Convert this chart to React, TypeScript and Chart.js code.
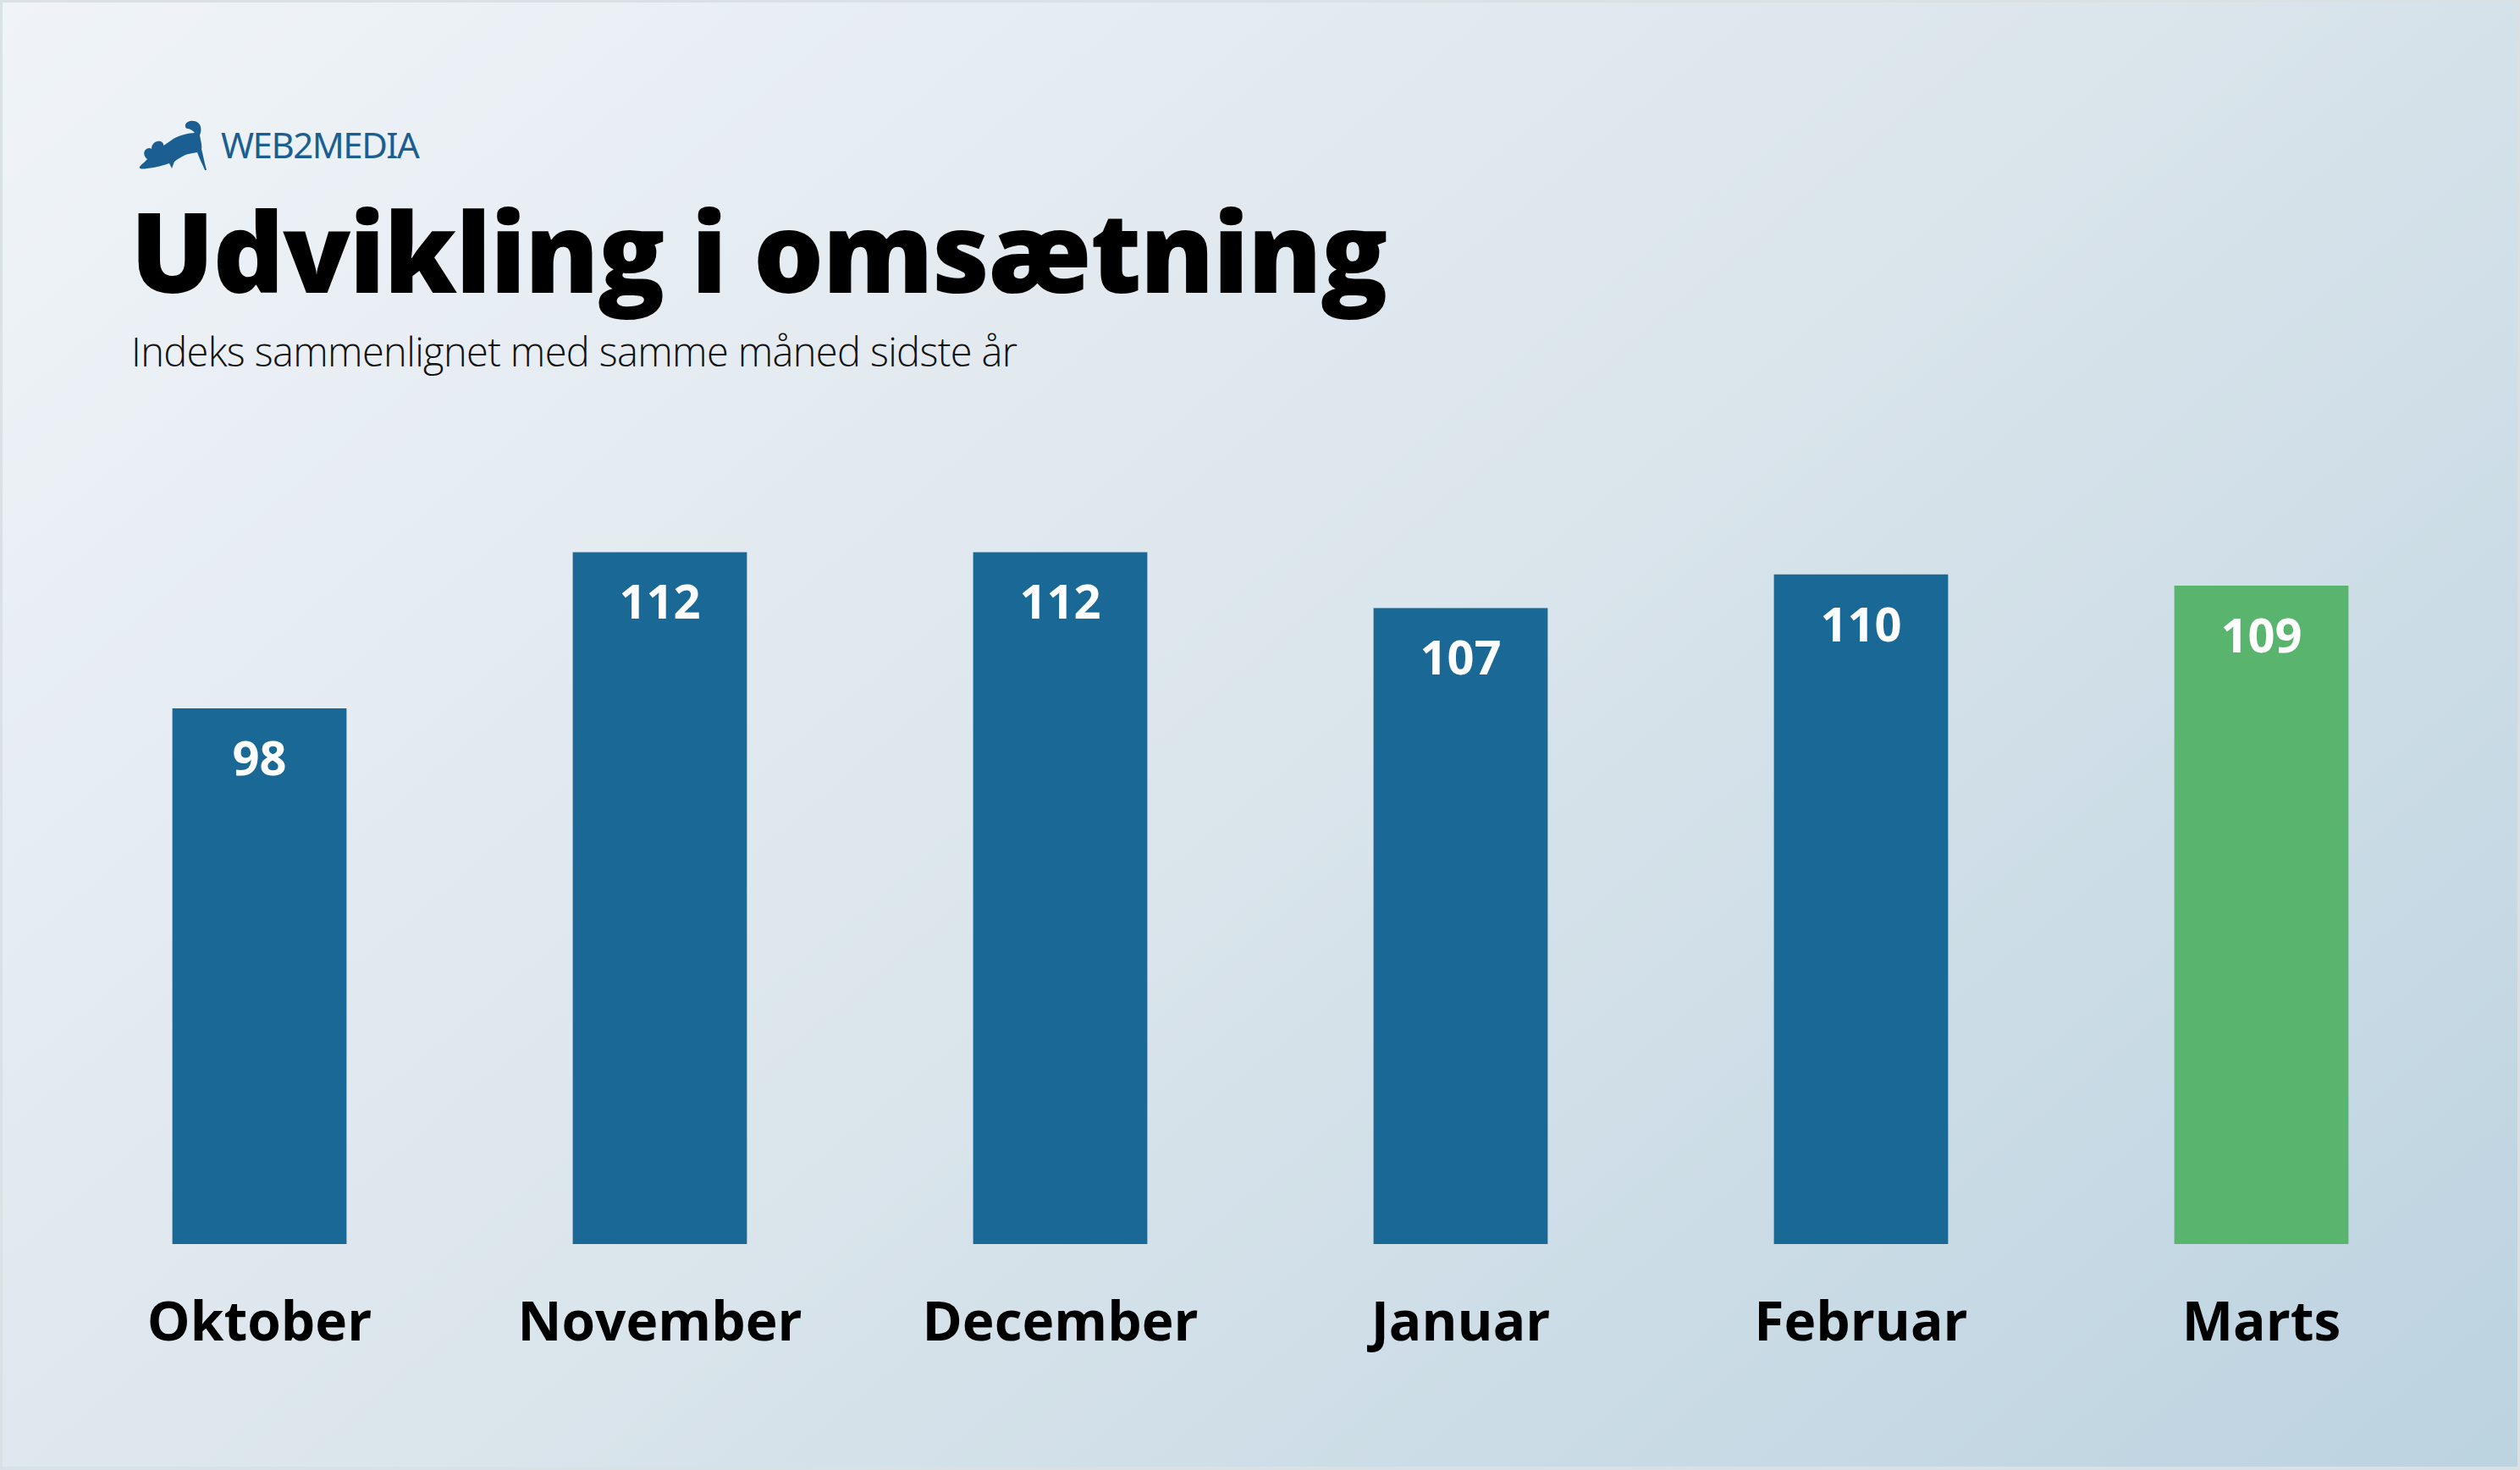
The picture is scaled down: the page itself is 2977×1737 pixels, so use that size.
import { useEffect, useRef } from "react"
import { Chart, registerables, Plugin } from "chart.js"

Chart.register(...registerables)

const months = ["Oktober", "November", "December", "Januar", "Februar", "Marts"]
const indexValues = [98, 112, 112, 107, 110, 109]
const barColors = ["#1a6895", "#1a6895", "#1a6895", "#1a6895", "#1a6895", "#59b46e"]

const titleText = "Udvikling i omsætning"
const subtitleText = "Indeks sammenlignet med samme måned sidste år"

// white value labels inside the top of each bar
const valueLabels: Plugin<"bar"> = {
  id: "valueLabels",
  afterDatasetsDraw(chart) {
    const ctx = chart.ctx
    const meta = chart.getDatasetMeta(0)
    ctx.save()
    ctx.fillStyle = "#ffffff"
    ctx.font = "bold 56px 'Open Sans'"
    ctx.textAlign = "center"
    ctx.textBaseline = "middle"
    meta.data.forEach((bar, i) => {
      ctx.fillText(String(indexValues[i]), bar.x, bar.y + 63)
    })
    ctx.restore()
  }
}

const CatLogo = () => (
  <svg
    viewBox="0 0 82 60"
    style={{ position: "absolute", left: 161, top: 139, width: 82, height: 60 }}
  >
    <path
      fill="#1b5e91"
      d="M1 55 C4 51 8 49 10 46 C7 44 5 40 7 36 C9 33 13 32 15 34 C15 30 17 26 22 25 C26 24 30 27 29 30 C36 26 42 20 50 18 C56 16 62 15 66 15 C64 12 60 10 57 10 C54 9 54 4 58 2 C64 -1 72 2 73 8 C74 12 73 15 72 18 C73 24 75 30 74 34 C76 42 78 52 80 59 L78 59 C75 52 71 44 69 38 C63 39 58 40 55 41 C50 44 45 46 42 49 L39 57 L36 51 C30 53 20 56 10 57 C5 58 0 58 1 55 Z"
    />
  </svg>
)

const IndexChart = () => {
  const chartRef = useRef<HTMLCanvasElement>(null)
  const chartInstance = useRef<Chart | null>(null)

  useEffect(() => {
    if (chartRef.current) {
      const ctx = chartRef.current.getContext("2d")

      if (ctx) {
        if (chartInstance.current) {
          chartInstance.current.destroy()
        }

        chartInstance.current = new Chart(ctx, {
          type: "bar",
          data: {
            labels: months,
            datasets: [{
              label: "Indeks",
              data: indexValues,
              backgroundColor: barColors,
              barPercentage: 0.435,
              categoryPercentage: 1
            }]
          },
          options: {
            responsive: false,
            maintainAspectRatio: false,
            animation: false,
            layout: { padding: 0 },
            scales: {
              y: {
                display: false,
                min: 50,
                max: 120
              },
              x: {
                grid: { display: false, drawTicks: false },
                border: { display: false },
                ticks: {
                  color: "#000000",
                  padding: 57,
                  font: { family: "'Open Sans'", size: 64, weight: "bold" }
                },
                afterFit: (scale) => {
                  scale.height = 160
                }
              }
            },
            plugins: {
              legend: { display: false },
              tooltip: { enabled: false }
            }
          },
          plugins: [valueLabels]
        })
      }
    }

    return () => {
      if (chartInstance.current) {
        chartInstance.current.destroy()
        chartInstance.current = null
      }
    }
  }, [])

  return (
    <canvas
      ref={chartRef}
      width={2838}
      height={1083}
      style={{ position: "absolute", left: 70, top: 547, width: 2838, height: 1083 }}
    ></canvas>
  )
}

const App = () => {
  useEffect(() => {
    document.body.style.margin = "0"
    document.body.style.overflow = "hidden"
  }, [])

  return (
    <div style={{ position: "absolute", left: 0, top: 0, width: 2977, height: 1737, background: "#d9e1e5" }}>
      <div
        style={{
          position: "absolute", left: 3, top: 3, right: 3, bottom: 4,
          background: "linear-gradient(140deg, #f0f4f8 0%, #dbe5ec 50%, #bcd3e0 100%)",
          fontFamily: "'Open Sans', sans-serif",
          overflow: "hidden"
        }}
      >
        <CatLogo />
        <div style={{
          position: "absolute", left: 258, top: 147, fontFamily: "'Noto Sans'",
          fontSize: 42, lineHeight: "42px", letterSpacing: -1.5, color: "#1b5e91", whiteSpace: "nowrap"
        }}>WEB2MEDIA</div>
        <div style={{
          position: "absolute", left: 151, top: 227, fontSize: 131, lineHeight: "131px",
          letterSpacing: -1.6, fontWeight: 800, color: "#000", whiteSpace: "nowrap"
        }}>{titleText}</div>
        <div style={{
          position: "absolute", left: 152, top: 389, fontSize: 47, lineHeight: "47px",
          letterSpacing: -0.65, fontWeight: 300, color: "#111", whiteSpace: "nowrap"
        }}>{subtitleText}</div>
      </div>
      <IndexChart />
    </div>
  )
}

export default App
